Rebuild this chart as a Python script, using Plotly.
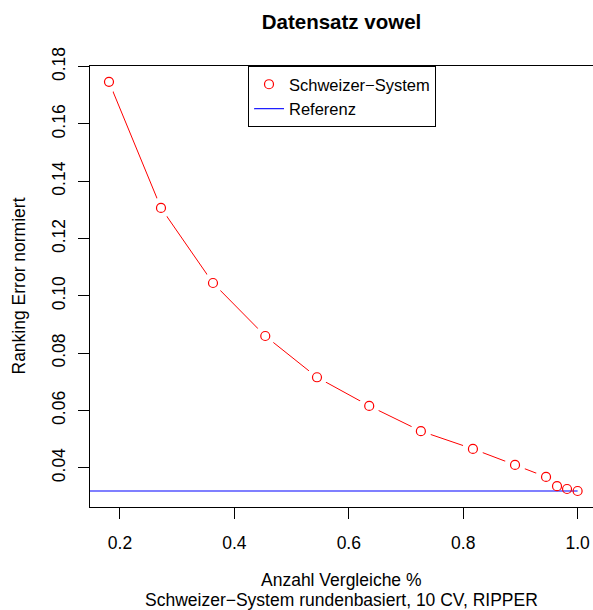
import plotly.graph_objects as go

# ---- data ----
x_vals = [0.1808, 0.2717, 0.3626, 0.4540, 0.5444, 0.6357, 0.7260, 0.8170, 0.8906, 0.9448, 0.9640, 0.9815, 1.0]
y_vals = [0.1747, 0.1307, 0.1045, 0.0860, 0.0716, 0.0616, 0.0528, 0.0466, 0.0410, 0.0368, 0.0336, 0.0326, 0.0319]
ref_x = [0.0, 1.0]
ref_value = 0.0319

x_ticks = [0.2, 0.4, 0.6, 0.8, 1.0]
x_ticklabels = ["0.2", "0.4", "0.6", "0.8", "1.0"]
y_ticks = [0.04, 0.06, 0.08, 0.10, 0.12, 0.14, 0.16, 0.18]
y_ticklabels = ["0.04", "0.06", "0.08", "0.10", "0.12", "0.14", "0.16", "0.18"]

series_name = "Schweizer\u2212System"
ref_name = "Referenz"
title = "Datensatz vowel"
xlab = "Anzahl Vergleiche %"
sub = "Schweizer\u2212System rundenbasiert, 10 CV, RIPPER"
ylab = "Ranking Error normiert"

x_range = [0.1476, 1.0269]
y_range = [0.02632, 0.18024]

FONT = "Liberation Sans, Arial, Helvetica, sans-serif"
FS = 17.5
RED = "#FF0000"
BLUE = "#0000FF"

fig = go.Figure()
# connecting line
fig.add_trace(go.Scatter(x=x_vals, y=y_vals, mode="lines",
                         line=dict(color=RED, width=1), showlegend=False, hoverinfo="skip"))
# white halos to create the gaps of R type="b"
fig.add_trace(go.Scatter(x=x_vals, y=y_vals, mode="markers",
                         marker=dict(symbol="circle", size=21, color="white", line=dict(width=0)),
                         showlegend=False, hoverinfo="skip"))
# reference line
fig.add_trace(go.Scatter(x=ref_x, y=[ref_value, ref_value], mode="lines",
                         line=dict(color=BLUE, width=1.1), name=ref_name, legendrank=2))
# points
fig.add_trace(go.Scatter(x=x_vals, y=y_vals, mode="markers",
                         marker=dict(symbol="circle-open", size=9, color=RED, line=dict(width=1.2)),
                         name=series_name, legendrank=1))

fig.update_layout(
    width=593, height=610,
    margin=dict(l=90, r=0, t=66, b=103, autoexpand=False),
    paper_bgcolor="white", plot_bgcolor="white",
    font=dict(family=FONT, size=FS, color="black"),
    title=dict(text="<b>" + title + "</b>", font=dict(size=20.5, family=FONT, color="black"),
               x=0.5, xref="paper", xanchor="center",
               y=1 - 22 / 610, yref="container", yanchor="middle"),
    legend=dict(x=(248 - 90) / 503, y=1.0, xanchor="left", yanchor="top",
                bgcolor="white", bordercolor="black", borderwidth=1,
                font=dict(size=16.5, family=FONT), tracegroupgap=0,
                itemwidth=30),
    showlegend=True,
)
fig.update_xaxes(range=x_range, tickvals=x_ticks, ticktext=x_ticklabels, automargin=False,
                 ticks="outside", ticklen=11, tickcolor="black", tickwidth=1,
                 showline=True, linecolor="black", linewidth=1, mirror=True,
                 showgrid=False, zeroline=False, ticklabelstandoff=9,
                 tickfont=dict(size=FS))
fig.update_yaxes(range=y_range, tickvals=y_ticks, ticktext=y_ticklabels, automargin=False,
                 ticks="outside", ticklen=11, tickcolor="black", tickwidth=1,
                 showline=True, linecolor="black", linewidth=1, mirror=False,
                 showgrid=False, zeroline=False, tickangle=-90, ticklabelstandoff=6,
                 tickfont=dict(size=FS))

fig.add_annotation(text=xlab, xref="paper", yref="paper", x=0.5, y=0, xanchor="center",
                   yanchor="middle", yshift=-(580 - 507), showarrow=False, font=dict(size=FS))
fig.add_annotation(text=sub, xref="paper", yref="paper", x=0.5, y=0, xanchor="center",
                   yanchor="middle", yshift=-(600 - 507), showarrow=False, font=dict(size=FS),
                   borderpad=0)
fig.add_annotation(text=ylab, xref="paper", yref="paper", x=0, y=0.5, xanchor="center",
                   yanchor="middle", xshift=-(90 - 18), textangle=-90, showarrow=False,
                   font=dict(size=FS))

fig.write_html("out.html", config={"displayModeBar": False},
               post_script="document.body.style.margin='0';document.body.style.padding='0';"
                           "document.documentElement.style.overflow='hidden';")
